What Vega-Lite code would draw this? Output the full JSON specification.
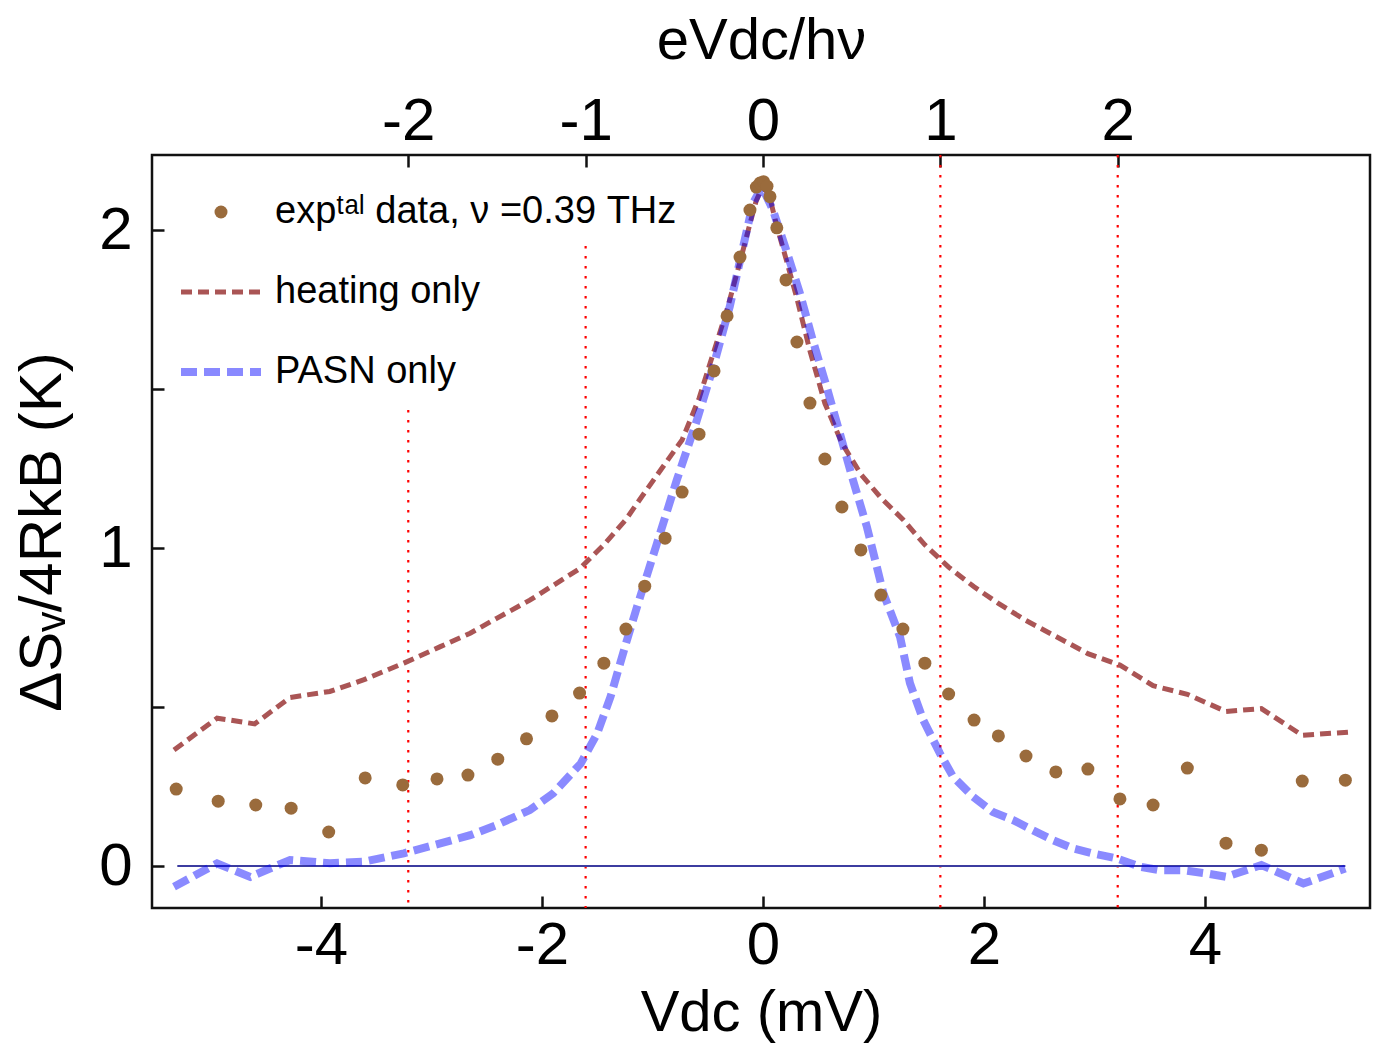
{
  "$schema": "https://vega.github.io/schema/vega-lite/v6.json",
  "width": 1218,
  "height": 753,
  "autosize": {"type": "none"},
  "padding": {"left": 152, "top": 155, "right": 3, "bottom": 145},
  "background": "white",
  "config": {
    "view": {"stroke": "#111111", "strokeWidth": 2.5},
    "font": "Liberation Sans",
    "axis": {"grid": false, "domain": false, "tickColor": "#111111", "tickWidth": 2.5, "tickSize": -12, "labelFont": "Liberation Sans", "labelFontSize": 60, "labelColor": "black", "titleFont": "Liberation Sans", "titleFontSize": 60, "titleFontWeight": "normal", "titleColor": "black"}
  },
  "resolve": {"axis": {"x": "independent"}},
  "datasets": {
    "vlines": [
      {"V": -3.21, "S": 1.434},
      {"V": -1.605, "S": 1.95},
      {"V": 1.605, "S": 2.236},
      {"V": 3.21, "S": 2.236}
    ],
    "zero": [{"V": -5.30, "V2": 5.27, "S": 0}],
    "curves": [
      {"V": -5.33, "S": 0.365, "series": "heat"},
      {"V": -4.94, "S": 0.465, "series": "heat"},
      {"V": -4.60, "S": 0.447, "series": "heat"},
      {"V": -4.28, "S": 0.530, "series": "heat"},
      {"V": -3.92, "S": 0.549, "series": "heat"},
      {"V": -3.61, "S": 0.586, "series": "heat"},
      {"V": -3.25, "S": 0.638, "series": "heat"},
      {"V": -2.92, "S": 0.690, "series": "heat"},
      {"V": -2.65, "S": 0.732, "series": "heat"},
      {"V": -2.41, "S": 0.779, "series": "heat"},
      {"V": -2.11, "S": 0.836, "series": "heat"},
      {"V": -1.91, "S": 0.880, "series": "heat"},
      {"V": -1.66, "S": 0.935, "series": "heat"},
      {"V": -1.44, "S": 1.010, "series": "heat"},
      {"V": -1.24, "S": 1.090, "series": "heat"},
      {"V": -1.07, "S": 1.175, "series": "heat"},
      {"V": -0.886, "S": 1.265, "series": "heat"},
      {"V": -0.732, "S": 1.340, "series": "heat"},
      {"V": -0.579, "S": 1.470, "series": "heat"},
      {"V": -0.443, "S": 1.620, "series": "heat"},
      {"V": -0.325, "S": 1.750, "series": "heat"},
      {"V": -0.208, "S": 1.900, "series": "heat"},
      {"V": -0.118, "S": 2.020, "series": "heat"},
      {"V": -0.063, "S": 2.090, "series": "heat"},
      {"V": -0.027, "S": 2.120, "series": "heat"},
      {"V": 0.009, "S": 2.130, "series": "heat"},
      {"V": 0.036, "S": 2.120, "series": "heat"},
      {"V": 0.063, "S": 2.100, "series": "heat"},
      {"V": 0.127, "S": 2.010, "series": "heat"},
      {"V": 0.208, "S": 1.910, "series": "heat"},
      {"V": 0.307, "S": 1.785, "series": "heat"},
      {"V": 0.425, "S": 1.620, "series": "heat"},
      {"V": 0.560, "S": 1.455, "series": "heat"},
      {"V": 0.714, "S": 1.330, "series": "heat"},
      {"V": 0.886, "S": 1.232, "series": "heat"},
      {"V": 1.067, "S": 1.158, "series": "heat"},
      {"V": 1.266, "S": 1.090, "series": "heat"},
      {"V": 1.465, "S": 1.010, "series": "heat"},
      {"V": 1.680, "S": 0.940, "series": "heat"},
      {"V": 1.910, "S": 0.878, "series": "heat"},
      {"V": 2.130, "S": 0.826, "series": "heat"},
      {"V": 2.380, "S": 0.772, "series": "heat"},
      {"V": 2.650, "S": 0.722, "series": "heat"},
      {"V": 2.940, "S": 0.668, "series": "heat"},
      {"V": 3.230, "S": 0.632, "series": "heat"},
      {"V": 3.530, "S": 0.567, "series": "heat"},
      {"V": 3.840, "S": 0.540, "series": "heat"},
      {"V": 4.190, "S": 0.486, "series": "heat"},
      {"V": 4.510, "S": 0.495, "series": "heat"},
      {"V": 4.880, "S": 0.411, "series": "heat"},
      {"V": 5.300, "S": 0.421, "series": "heat"},
      {"V": -5.33, "S": -0.065, "series": "pasn"},
      {"V": -4.94, "S": 0.008, "series": "pasn"},
      {"V": -4.64, "S": -0.034, "series": "pasn"},
      {"V": -4.28, "S": 0.019, "series": "pasn"},
      {"V": -3.92, "S": 0.009, "series": "pasn"},
      {"V": -3.61, "S": 0.014, "series": "pasn"},
      {"V": -3.25, "S": 0.040, "series": "pasn"},
      {"V": -2.92, "S": 0.071, "series": "pasn"},
      {"V": -2.65, "S": 0.097, "series": "pasn"},
      {"V": -2.41, "S": 0.129, "series": "pasn"},
      {"V": -2.11, "S": 0.176, "series": "pasn"},
      {"V": -1.90, "S": 0.228, "series": "pasn"},
      {"V": -1.65, "S": 0.322, "series": "pasn"},
      {"V": -1.50, "S": 0.417, "series": "pasn"},
      {"V": -1.38, "S": 0.532, "series": "pasn"},
      {"V": -1.24, "S": 0.700, "series": "pasn"},
      {"V": -1.14, "S": 0.815, "series": "pasn"},
      {"V": -0.96, "S": 1.014, "series": "pasn"},
      {"V": -0.78, "S": 1.214, "series": "pasn"},
      {"V": -0.60, "S": 1.400, "series": "pasn"},
      {"V": -0.45, "S": 1.570, "series": "pasn"},
      {"V": -0.30, "S": 1.760, "series": "pasn"},
      {"V": -0.18, "S": 1.947, "series": "pasn"},
      {"V": -0.09, "S": 2.085, "series": "pasn"},
      {"V": -0.01, "S": 2.136, "series": "pasn"},
      {"V": 0.09, "S": 2.063, "series": "pasn"},
      {"V": 0.21, "S": 1.937, "series": "pasn"},
      {"V": 0.335, "S": 1.800, "series": "pasn"},
      {"V": 0.45, "S": 1.654, "series": "pasn"},
      {"V": 0.576, "S": 1.507, "series": "pasn"},
      {"V": 0.696, "S": 1.360, "series": "pasn"},
      {"V": 0.814, "S": 1.214, "series": "pasn"},
      {"V": 0.94, "S": 1.067, "series": "pasn"},
      {"V": 1.09, "S": 0.857, "series": "pasn"},
      {"V": 1.24, "S": 0.721, "series": "pasn"},
      {"V": 1.33, "S": 0.575, "series": "pasn"},
      {"V": 1.45, "S": 0.459, "series": "pasn"},
      {"V": 1.60, "S": 0.355, "series": "pasn"},
      {"V": 1.72, "S": 0.281, "series": "pasn"},
      {"V": 1.90, "S": 0.218, "series": "pasn"},
      {"V": 2.08, "S": 0.170, "series": "pasn"},
      {"V": 2.26, "S": 0.145, "series": "pasn"},
      {"V": 2.44, "S": 0.113, "series": "pasn"},
      {"V": 2.62, "S": 0.082, "series": "pasn"},
      {"V": 2.81, "S": 0.055, "series": "pasn"},
      {"V": 2.99, "S": 0.039, "series": "pasn"},
      {"V": 3.20, "S": 0.024, "series": "pasn"},
      {"V": 3.41, "S": -0.002, "series": "pasn"},
      {"V": 3.59, "S": -0.013, "series": "pasn"},
      {"V": 3.80, "S": -0.013, "series": "pasn"},
      {"V": 4.01, "S": -0.023, "series": "pasn"},
      {"V": 4.19, "S": -0.034, "series": "pasn"},
      {"V": 4.51, "S": 0.003, "series": "pasn"},
      {"V": 4.89, "S": -0.055, "series": "pasn"},
      {"V": 5.27, "S": -0.008, "series": "pasn"}
    ],
    "pts": [
      {"V": -5.31, "S": 0.242, "series": "exp"},
      {"V": -4.93, "S": 0.204, "series": "exp"},
      {"V": -4.59, "S": 0.192, "series": "exp"},
      {"V": -4.27, "S": 0.182, "series": "exp"},
      {"V": -3.93, "S": 0.107, "series": "exp"},
      {"V": -3.60, "S": 0.277, "series": "exp"},
      {"V": -3.26, "S": 0.255, "series": "exp"},
      {"V": -2.95, "S": 0.274, "series": "exp"},
      {"V": -2.67, "S": 0.286, "series": "exp"},
      {"V": -2.40, "S": 0.336, "series": "exp"},
      {"V": -2.14, "S": 0.400, "series": "exp"},
      {"V": -1.91, "S": 0.472, "series": "exp"},
      {"V": -1.66, "S": 0.544, "series": "exp"},
      {"V": -1.44, "S": 0.638, "series": "exp"},
      {"V": -1.24, "S": 0.745, "series": "exp"},
      {"V": -1.07, "S": 0.880, "series": "exp"},
      {"V": -0.886, "S": 1.031, "series": "exp"},
      {"V": -0.732, "S": 1.176, "series": "exp"},
      {"V": -0.579, "S": 1.358, "series": "exp"},
      {"V": -0.443, "S": 1.557, "series": "exp"},
      {"V": -0.325, "S": 1.730, "series": "exp"},
      {"V": -0.208, "S": 1.915, "series": "exp"},
      {"V": -0.118, "S": 2.063, "series": "exp"},
      {"V": -0.060, "S": 2.135, "series": "exp"},
      {"V": -0.027, "S": 2.148, "series": "exp"},
      {"V": 0.005, "S": 2.152, "series": "exp"},
      {"V": 0.036, "S": 2.138, "series": "exp"},
      {"V": 0.063, "S": 2.105, "series": "exp"},
      {"V": 0.125, "S": 2.007, "series": "exp"},
      {"V": 0.208, "S": 1.843, "series": "exp"},
      {"V": 0.307, "S": 1.648, "series": "exp"},
      {"V": 0.425, "S": 1.456, "series": "exp"},
      {"V": 0.560, "S": 1.280, "series": "exp"},
      {"V": 0.714, "S": 1.129, "series": "exp"},
      {"V": 0.886, "S": 0.994, "series": "exp"},
      {"V": 1.067, "S": 0.852, "series": "exp"},
      {"V": 1.266, "S": 0.745, "series": "exp"},
      {"V": 1.465, "S": 0.638, "series": "exp"},
      {"V": 1.680, "S": 0.541, "series": "exp"},
      {"V": 1.910, "S": 0.459, "series": "exp"},
      {"V": 2.130, "S": 0.409, "series": "exp"},
      {"V": 2.380, "S": 0.346, "series": "exp"},
      {"V": 2.650, "S": 0.296, "series": "exp"},
      {"V": 2.940, "S": 0.305, "series": "exp"},
      {"V": 3.230, "S": 0.211, "series": "exp"},
      {"V": 3.530, "S": 0.192, "series": "exp"},
      {"V": 3.840, "S": 0.308, "series": "exp"},
      {"V": 4.190, "S": 0.072, "series": "exp"},
      {"V": 4.510, "S": 0.050, "series": "exp"},
      {"V": 4.880, "S": 0.267, "series": "exp"},
      {"V": 5.270, "S": 0.270, "series": "exp"}
    ]
  },
  "layer": [
    {
      "data": {"name": "vlines"},
      "mark": {"type": "rule", "color": "#ff0000", "strokeWidth": 2.2, "strokeDash": [2.5, 7.5]},
      "encoding": {
        "x": {"field": "V", "type": "quantitative", "scale": {"domain": [-5.529, 5.493], "nice": false, "zero": false},
              "axis": {"orient": "bottom", "values": [-4, -2, 0, 2, 4], "labelExpr": "'' + datum.value", "labelPadding": 20, "title": "Vdc (mV)", "titlePadding": 9, "titleFontSize": 58}},
        "y": {"field": "S", "type": "quantitative", "scale": {"domain": [-0.132, 2.236], "nice": false, "zero": false},
              "axis": {"orient": "left", "values": [0, 0.5, 1, 1.5, 2], "labelExpr": "datum.value == 0 || datum.value == 1 || datum.value == 2 ? '' + datum.value : ''", "labelPadding": 32, "title": "ΔSᵥ/4RkB  (K)", "titlePadding": 25}},
        "y2": {"datum": -0.132}
      }
    },
    {
      "data": {"name": "zero"},
      "mark": {"type": "rule", "color": "#3c3ca0", "strokeWidth": 2},
      "encoding": {
        "x": {"field": "V", "type": "quantitative",
              "axis": {"orient": "top", "values": [-3.21, -1.605, 0, 1.605, 3.21], "labelExpr": "'' + round(datum.value / 1.605)", "labelPadding": 15, "title": "eVdc/hν", "titlePadding": 21, "titleFontSize": 58}},
        "x2": {"field": "V2"},
        "y": {"field": "S", "type": "quantitative",
              "axis": {"orient": "left", "values": [0, 0.5, 1, 1.5, 2], "labelExpr": "datum.value == 0 || datum.value == 1 || datum.value == 2 ? '' + datum.value : ''", "labelPadding": 32, "title": "ΔSᵥ/4RkB  (K)", "titlePadding": 25}}
      }
    },
    {
      "data": {"name": "curves"},
      "mark": {"type": "line"},
      "encoding": {
        "x": {"field": "V", "type": "quantitative", "axis": null},
        "y": {"field": "S", "type": "quantitative",
              "axis": {"orient": "left", "values": [0, 0.5, 1, 1.5, 2], "labelExpr": "datum.value == 0 || datum.value == 1 || datum.value == 2 ? '' + datum.value : ''", "labelPadding": 32, "title": "ΔSᵥ/4RkB  (K)", "titlePadding": 25}},
        "color": {"field": "series", "type": "nominal", "title": null},
        "strokeDash": {"field": "series", "type": "nominal", "title": null, "scale": {"type": "ordinal", "domain": ["exp", "heat", "pasn"], "range": [[1, 0], [11, 6], [16, 7]]}},
        "strokeWidth": {"field": "series", "type": "nominal", "title": null, "scale": {"type": "ordinal", "domain": ["exp", "heat", "pasn"], "range": [0, 5, 8]}},
        "opacity": {"field": "series", "type": "nominal", "title": null, "scale": {"type": "ordinal", "domain": ["exp", "heat", "pasn"], "range": [1, 1, 0.46]}}
      }
    },
    {
      "data": {"name": "pts"},
      "mark": {"type": "point", "filled": true, "opacity": 1},
      "encoding": {
        "x": {"field": "V", "type": "quantitative", "axis": null},
        "y": {"field": "S", "type": "quantitative",
              "axis": {"orient": "left", "values": [0, 0.5, 1, 1.5, 2], "labelExpr": "datum.value == 0 || datum.value == 1 || datum.value == 2 ? '' + datum.value : ''", "labelPadding": 32, "title": "ΔSᵥ/4RkB  (K)", "titlePadding": 25}},
        "color": {"field": "series", "type": "nominal", "title": null,
                  "scale": {"domain": ["exp", "heat", "pasn"], "range": ["#9a6b3c", "#aa5555", "#0000ff"]},
                  "legend": {"orient": "none", "legendX": 25, "legendY": 17, "padding": 0, "clipHeight": 80, "rowPadding": 0, "labelOffset": 10, "labelFont": "Liberation Sans", "labelFontSize": 38, "labelColor": "black", "labelLimit": 900,
                             "labelExpr": "datum.label == 'exp' ? 'expᵗᵃˡ data, ν =0.39 THz' : datum.label == 'heat' ? 'heating only' : 'PASN only'"}},
        "shape": {"field": "series", "type": "nominal", "title": null, "scale": {"domain": ["exp", "heat", "pasn"], "range": ["circle", "stroke", "stroke"]}},
        "size": {"field": "series", "type": "nominal", "title": null, "scale": {"type": "ordinal", "domain": ["exp", "heat", "pasn"], "range": [169, 6400, 6400]}}
      }
    }
  ]
}
